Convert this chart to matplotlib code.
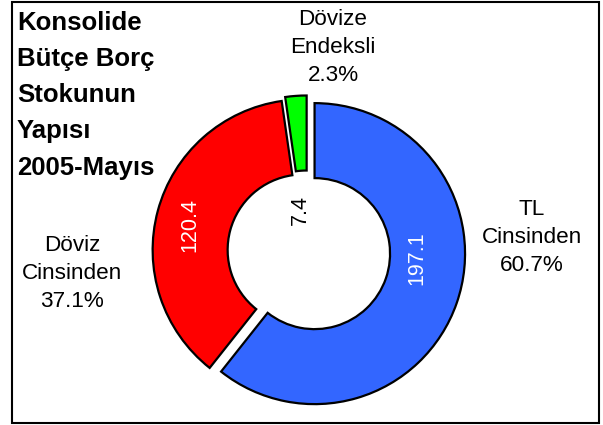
import matplotlib
matplotlib.use("Agg")
import matplotlib.pyplot as plt
from matplotlib.patches import Rectangle

# ---- data ----
categories = ["TL\nCinsinden", "Döviz\nCinsinden", "Dövize\nEndeksli"]
values = [197.1, 120.4, 7.4]
percents = ["60.7%", "37.1%", "2.3%"]
value_labels = ["197.1", "120.4", "7.4"]
colors = ["#3366FF", "#FF0000", "#00FF00"]
title_lines = ["Konsolide", "Bütçe Borç", "Stokunun", "Yapısı", "2005-Mayıs"]

W, H = 603, 425
plt.rcParams['font.family'] = ['Liberation Sans', 'DejaVu Sans']

fig = plt.figure(figsize=(W / 100, H / 100), dpi=100)
ax = fig.add_axes([0, 0, 1, 1])

def py(y):  # pixel y (from top) -> data y
    return H - y

cx, cy = 307, py(251)
R, ring = 150.5, 75
explode = [8, 4, 5]

ax.pie(values, radius=R, center=(cx, cy), startangle=90, counterclock=False,
       explode=explode, colors=colors,
       wedgeprops=dict(width=ring, edgecolor="black", linewidth=1.6))

ax.set_xlim(0, W)
ax.set_ylim(0, H)
ax.set_aspect("equal")
ax.axis("off")

# frame
ax.add_patch(Rectangle((12, py(423)), 587, 421, fill=False, edgecolor="black",
                       linewidth=1.5, clip_on=False))

# title
ax.text(17, py(11.0), "\n".join(title_lines), ha="left", va="top",
        fontsize=18.5, fontweight="bold", linespacing=1.64)

# value labels (rotated)
val_pos = [(417, 258), (190, 225), (300, 210)]
val_cols = ["white", "white", "black"]
for (x, y), t, c in zip(val_pos, value_labels, val_cols):
    ax.text(x, py(y), t, rotation=90, ha="center", va="center",
            fontsize=15.5, color=c, rotation_mode="anchor")

# category labels
cat_pos = [(532, 199.0), (72, 235.0), (333, 9.0)]
for (x, y), cat, p in zip(cat_pos, categories, percents):
    ax.text(x, py(y), cat + "\n" + p, ha="center", va="top",
            fontsize=16.2, linespacing=1.435)

fig.savefig("out.png", dpi=100)
